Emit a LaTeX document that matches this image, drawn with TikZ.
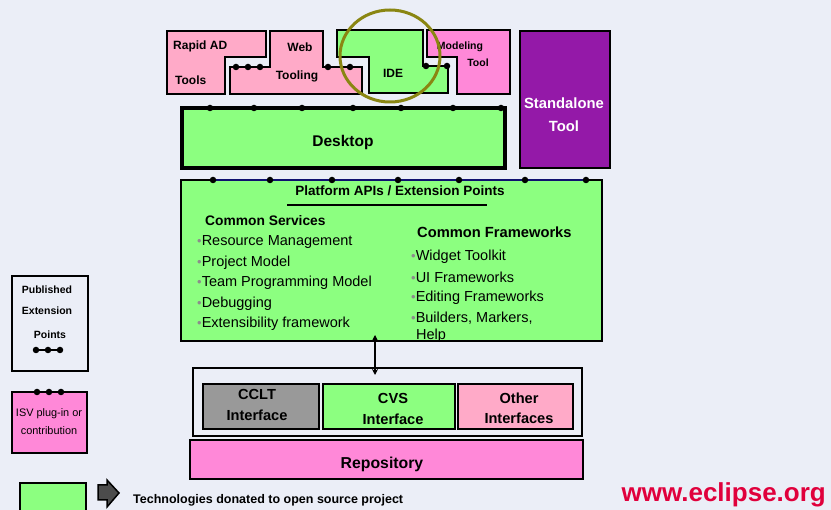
\documentclass[tikz,border=0pt]{standalone}
\usepackage{fontspec}
\setmainfont{Liberation Sans}
\usetikzlibrary{arrows.meta}

\definecolor{bgblue}{HTML}{EBEEF7}
\definecolor{lgreen}{HTML}{8CFF80}
\definecolor{lpink}{HTML}{FFAAC8}
\definecolor{hpink}{HTML}{FF88D8}
\definecolor{purp}{HTML}{9419A8}
\definecolor{ifgray}{HTML}{999999}
\definecolor{ringolive}{HTML}{8A8612}
\definecolor{eclred}{HTML}{E0003C}
\definecolor{apinavy}{HTML}{101070}

\newcommand{\pxfont}[1]{\fontsize{#1}{#1}\selectfont}
\newcommand{\blt}{{\color{black!45}\pxfont{13}\textbullet}}

\tikzset{
	box/.style={line width=2.5, line join=miter},
	epdot/.style={circle, fill=black, inner sep=0pt, minimum size=6.5},
	btxt/.style={font=\bfseries\pxfont{12}, inner sep=0pt},
	item/.style={font=\pxfont{14.5}, anchor=west, inner sep=0pt},
}

\begin{document}
\begin{tikzpicture}[x=1pt,y=-1pt]
		\useasboundingbox (0,0) rectangle (831,510);
		\fill[bgblue] (0,0) rectangle (831,510);
		% tools on top of the desktop
		\filldraw[box, fill=lpink] (167,31) -- (266,31) -- (266,57) -- (225,57) -- (225,94) -- (167,94) -- cycle;
		\filldraw[box, fill=lpink] (270,31) -- (323,31) -- (323,67) -- (362,67) -- (362,94) -- (230,94) -- (230,67) -- (270,67) -- cycle;
		\filldraw[box, fill=lgreen] (337,30) -- (423,30) -- (423,66) -- (448,66) -- (448,93) -- (369,93) -- (369,57) -- (337,57) -- cycle;
		\filldraw[box, fill=hpink] (427,30) -- (510,30) -- (510,94) -- (457,94) -- (457,57) -- (427,57) -- cycle;
		\foreach \x/\y in {236/67,248/67,260/67,328/67,350/67,426/66,447/66}{
			\node[epdot] at (\x,\y) {};
		}
		\node[btxt, anchor=west] (rapid) at (173,46) {Rapid AD};
		\node[btxt, anchor=west] (rtools) at (175,80) {Tools};
		\node[btxt] (web) at (300,47) {Web};
		\node[btxt] (tooling) at (297,76) {Tooling};
		\node[btxt] (ide) at (393,73) {IDE};
		\node[btxt, font=\bfseries\pxfont{10.5}] (model) at (460,47) {Modeling};
		\node[btxt, font=\bfseries\pxfont{10.5}] (mtool) at (478,63) {Tool};
		\draw[ringolive, line width=3] (390,56) ellipse [x radius=50, y radius=46];

		% desktop and standalone tool
		\filldraw[box, line width=3.5, fill=lgreen] (182,108) rectangle (505,168);
		\foreach \x in {210,254,302,353,401,453,501}{
			\node[epdot] at (\x,108) {};
		}
		\node[btxt, font=\bfseries\pxfont{15.5}] (desktop) at (343,142) {Desktop};
		\filldraw[box, fill=purp] (520,31) rectangle (610,168);
		\node[btxt, font=\bfseries\pxfont{14.8}, text=white, align=center] (standalone) at (564,115) {Standalone\\[8]Tool};

		% platform
		\filldraw[line width=2, fill=lgreen] (181,180) rectangle (602,341);
		\draw[apinavy, line width=1.5] (213,180) -- (586,180);
		\foreach \x in {213,270,332,398,459,525,586}{
			\node[epdot] at (\x,180) {};
		}
		\node[btxt, font=\bfseries\pxfont{13.5}] (apis) at (400,191) {Platform APIs / Extension Points};
		\draw[line width=1.5] (287,205) -- (487,205);
		\node[btxt, font=\bfseries\pxfont{13.8}, anchor=west] (services) at (205,221) {Common Services};
		\foreach \t [count=\i from 0] in {Resource Management,Project Model,Team Programming Model,Debugging,Extensibility framework}{
			\node[item] (srv\i) at (197,242+20.5*\i) {\blt\t};
		}
		\node[btxt, font=\bfseries\pxfont{14.7}, anchor=west] (frames) at (417,232) {Common Frameworks};
		\foreach \t [count=\i from 0] in {Widget Toolkit,UI Frameworks,Editing Frameworks,{Builders, Markers,}}{
			\node[item] (frm\i) at (411,257+20.3*\i) {\blt\t};
		}
		\node[item] (frmhelp) at (416,336) {Help};

		% interfaces and repository
		\draw[line width=2] (193,368) rectangle (582,436);
		\filldraw[box, fill=ifgray] (203,384) rectangle (319,429);
		\filldraw[box, fill=lgreen] (323,384) rectangle (455,429);
		\filldraw[box, fill=lpink] (458,384) rectangle (573,429);
		\node[btxt, font=\bfseries\pxfont{14.6}, align=center] (cclt) at (257,405) {CCLT\\[6]Interface};
		\node[btxt, font=\bfseries\pxfont{14.6}, align=center] (cvs) at (393,409) {CVS\\[6]Interface};
		\node[btxt, font=\bfseries\pxfont{14.6}, align=center] (other) at (519,408) {Other\\[5]Interfaces};
		\filldraw[box, fill=hpink] (190,440) rectangle (583,479);
		\node[btxt, font=\bfseries\pxfont{15.8}] (repo) at (382,464) {Repository};
		\coordinate (apitop) at (375,335);
		\coordinate (apibot) at (375,375);
		\draw[line width=2, {Stealth[length=6,width=6]}-{Stealth[length=6,width=6]}] (apitop) -- (apibot);

		% legend
		\draw[box] (12,276) rectangle (88,371);
		\node[btxt, font=\bfseries\pxfont{10.5}] (pub) at (47,290) {Published};
		\node[btxt, font=\bfseries\pxfont{10.5}] (ext) at (47,311) {Extension};
		\node[btxt, font=\bfseries\pxfont{10.5}] (pts) at (50,335) {Points};
		\draw[line width=1.5] (36,350) -- (60,350);
		\foreach \x in {36,48,60}{
			\node[epdot] at (\x,350) {};
		}
		\filldraw[box, fill=hpink] (12,392) rectangle (87,453);
		\draw[line width=1.5] (37,392) -- (61,392);
		\foreach \x in {37,49,61}{
			\node[epdot] at (\x,392) {};
		}
		\node[inner sep=0pt, font=\pxfont{10.9}] (isv) at (49,414) {ISV plug-in or};
		\node[inner sep=0pt, font=\pxfont{10.9}] (contrib) at (49,431) {contribution};
		\filldraw[box, fill=lgreen] (20,483) rectangle (86,514);
		\filldraw[fill=black!70, draw=black, line width=1.5, line join=miter] (98,485) -- (107,485) -- (107,480) -- (119,493) -- (107,507) -- (107,500) -- (98,500) -- cycle;
		\node[btxt, font=\bfseries\pxfont{12.5}, anchor=west] (donated) at (133,500) {Technologies donated to open source project};
		\node[btxt, font=\bfseries\pxfont{26}, text=eclred, anchor=east] (eclipse) at (826,495) {www.eclipse.org};
	\end{tikzpicture}
\end{document}
